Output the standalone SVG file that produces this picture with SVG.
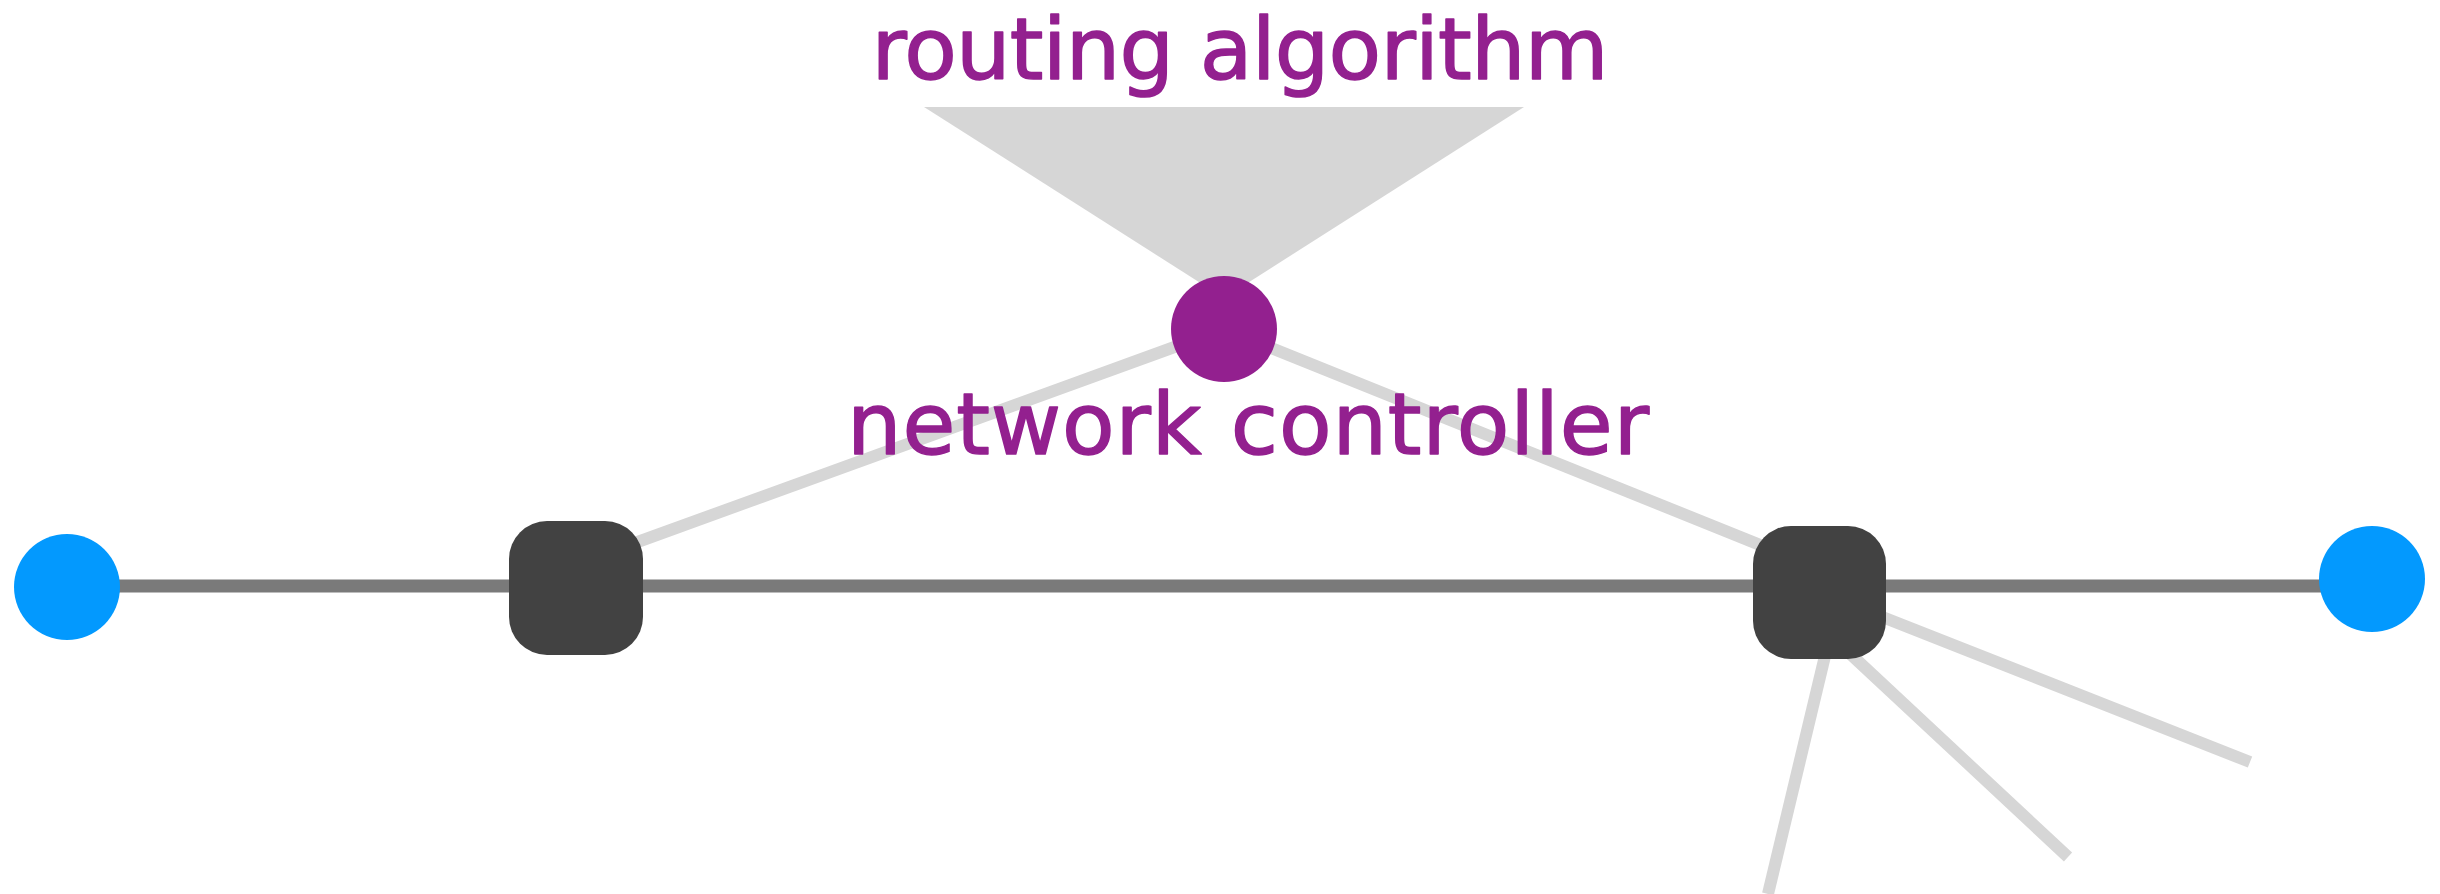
<svg xmlns="http://www.w3.org/2000/svg" width="2440" height="894" viewBox="0 0 2440 894">
  <style>
    .ctl { stroke: #d6d6d6; stroke-width: 12; fill: none; }
    .data { stroke: #7a7a7a; stroke-width: 13; fill: none; }
    .host { fill: #0399fe; }
    .switch { fill: #424242; }
    .label { font-family: "DejaVu Sans", "Liberation Sans", sans-serif; font-size: 86px; fill: #93208f; stroke: #93208f; stroke-width: 1.5; stroke-linejoin: round; text-anchor: middle; }
  </style>
  <rect x="0" y="0" width="2440" height="894" fill="#ffffff"/>
  <g id="routing-algorithm">
    <polygon points="924,107 1524,107 1224,298" fill="#d6d6d6"/>
    <text class="label" x="1240" y="79" textLength="737">routing algorithm</text>
  </g>
  <g id="connectors">
    <line class="ctl" x1="1224" y1="329" x2="610" y2="552"/>
    <line class="ctl" x1="1224" y1="329" x2="1790" y2="557"/>
    <line class="ctl" x1="1819" y1="592" x2="2250" y2="762"/>
    <line class="ctl" x1="1830" y1="635" x2="2068" y2="857"/>
    <line class="ctl" x1="1836" y1="610" x2="1768" y2="894"/>
    <line class="data" x1="67" y1="586" x2="2372" y2="586"/>
  </g>
  <g id="host-left">
    <circle class="host" cx="67" cy="587" r="53"/>
  </g>
  <g id="switch-left">
    <rect class="switch" x="509" y="521" width="134" height="134" rx="38" ry="38"/>
  </g>
  <g id="switch-right">
    <rect class="switch" x="1753" y="526" width="133" height="133" rx="38" ry="38"/>
  </g>
  <g id="host-right">
    <circle class="host" cx="2372" cy="579" r="53"/>
  </g>
  <g id="network-controller">
    <circle cx="1224" cy="329" r="53" fill="#93208f"/>
    <text class="label" x="1248" y="454" textLength="802">network controller</text>
  </g>
</svg>
